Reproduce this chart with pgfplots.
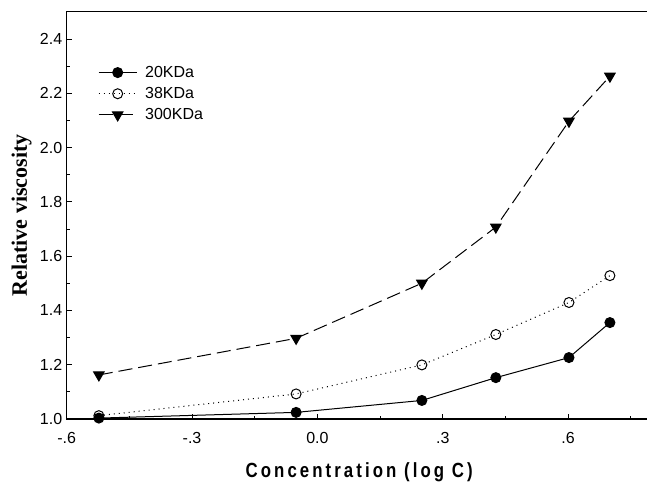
\documentclass[border=0pt]{standalone}
\usepackage{fontspec}
\setmainfont{Liberation Sans}
\newfontfamily\timesfont{Liberation Serif}
\newfontfamily\xlabfont{Liberation Sans}[FakeStretch=0.82,LetterSpace=15]
\usepackage{pgfplots}
\pgfplotsset{compat=1.18}
\usetikzlibrary{calc}
\begin{document}
\begin{tikzpicture}
\begin{axis}[
  scale only axis,
  width=585pt, height=407pt,
  xmin=-0.6, xmax=0.8, ymin=1.0, ymax=2.5,
  clip=false,
  axis line style={line width=1.2pt},
  tick pos=left, tick align=inside,
  major tick length=5pt, minor tick length=3pt,
  every tick/.style={black, line width=0.8pt},
  xtick={-0.6,-0.3,0,0.3,0.6},
  xticklabels={-.6,-.3,0.0,.3,.6},
  minor xtick={-0.45,-0.15,0.15,0.45,0.75},
  ytick={1.0,1.2,1.4,1.6,1.8,2.0,2.2,2.4},
  minor ytick={1.1,1.3,1.5,1.7,1.9,2.1,2.3},
  yticklabel style={/pgf/number format/fixed, /pgf/number format/fixed zerofill, /pgf/number format/precision=1, xshift=-1pt},
  xticklabel style={yshift=-10pt},
  /pgf/number format/assume math mode=true,
  tick label style={font=\fontsize{16}{19}\selectfont},
  xlabel={\xlabfont\bfseries Concentration (log C)},
  ylabel={\timesfont\bfseries Relative viscosity},
  xlabel style={font=\fontsize{20.5}{24}\selectfont, at={(axis description cs:0.5,-0.145)}, anchor=base},
  ylabel style={font=\fontsize{22}{26}\selectfont, at={(axis description cs:-0.068,0.5)}, anchor=base},
  legend style={draw=none, fill=none, at={(axis description cs:0.0535,0.867)}, anchor=north west,
    font=\fontsize{16}{19}\selectfont, inner sep=0pt, row sep=8.5pt, column sep=8pt,
    nodes={inner sep=0pt}},
  legend cell align=left,
  legend image code/.code={\draw[mark repeat=2,mark phase=2,#1] plot coordinates {(0pt,0pt) (19pt,0pt) (38pt,0pt)};},
]
\addplot[black, line width=1pt, mark=*, mark size=5pt, mark options={solid}] coordinates {
(-0.523,1.003) (-0.051,1.024) (0.250,1.068) (0.427,1.152) (0.602,1.226) (0.700,1.355)};
\addlegendentry{20KDa}
\addplot[black, line width=1pt, dash pattern=on 1pt off 4pt, mark=o, mark size=5pt, mark options={solid, fill=white, line width=1pt}] coordinates {
(-0.523,1.012) (-0.051,1.092) (0.250,1.199) (0.427,1.311) (0.602,1.429) (0.700,1.528)};
\addlegendentry{38KDa}
\addplot[black, line width=1pt, dash pattern=on 14pt off 6pt, mark=triangle*, mark size=6pt, mark options={solid, rotate=180}] coordinates {
(-0.523,1.162) (-0.051,1.297) (0.250,1.500) (0.427,1.707) (0.602,2.097) (0.700,2.263)};
\addlegendentry{300KDa}
\coordinate (bl) at (rel axis cs:0,0);
\coordinate (tr) at (rel axis cs:1,1);
\end{axis}
\pgfresetboundingbox
\path[use as bounding box] ($(bl)+(-66.7pt,-64pt)$) rectangle ($(tr)+(-4.7pt,11.9pt)$);
\end{tikzpicture}
\end{document}
